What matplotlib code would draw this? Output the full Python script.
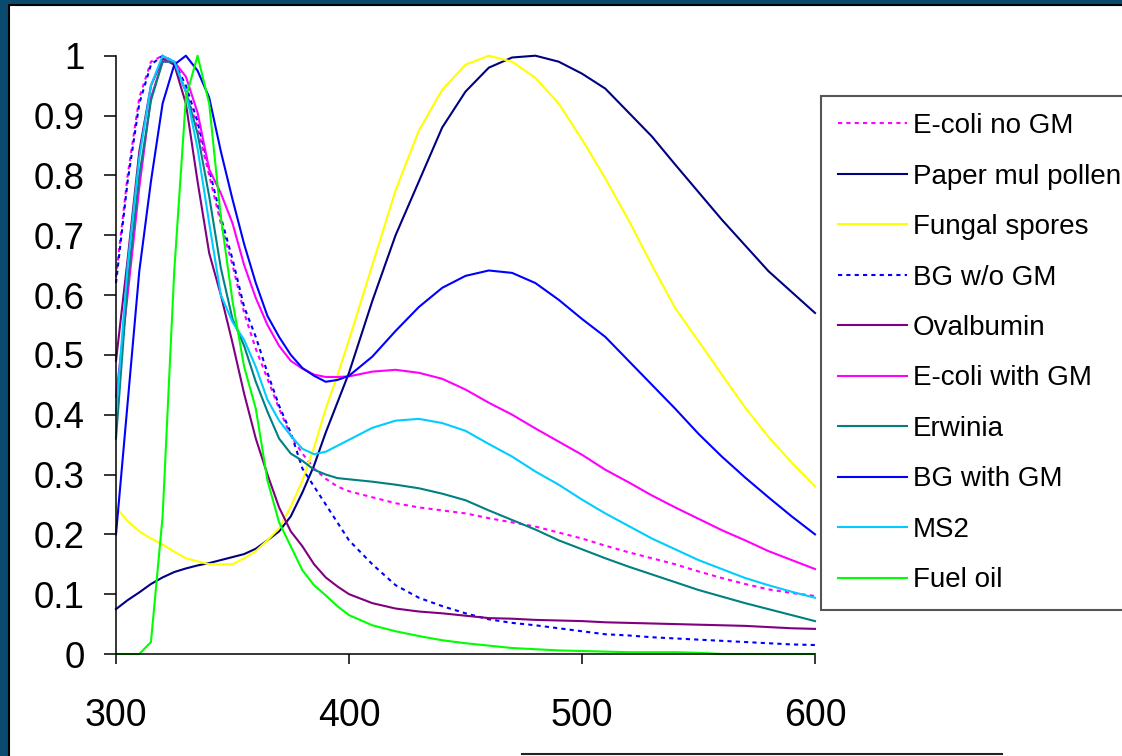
import numpy as np
import matplotlib
matplotlib.use("Agg")
import matplotlib.pyplot as plt
from matplotlib.patches import Rectangle
from matplotlib.lines import Line2D

plt.rcParams['font.family'] = ['Liberation Sans', 'DejaVu Sans']

# wavelength grid (nm)
wavelength = [300, 305, 310, 315, 320, 325, 330, 335, 340, 345, 350, 355, 360, 365, 370,
              375, 380, 385, 390, 395, 400,
              410, 420, 430, 440, 450, 460, 470, 480, 490, 500, 510, 520, 530, 540, 550,
              560, 570, 580, 590, 600]

ecoli_no_gm = [0.63, 0.80, 0.93, 0.99, 1.0, 0.985, 0.94, 0.88, 0.80, 0.72, 0.65, 0.57, 0.51, 0.46, 0.41,
               0.365, 0.335, 0.31, 0.293, 0.28, 0.272,
               0.262, 0.252, 0.245, 0.24, 0.235, 0.227, 0.22, 0.213, 0.203, 0.193, 0.181, 0.17, 0.16, 0.15,
               0.138, 0.127, 0.117, 0.108, 0.102, 0.097]
paper_mul_pollen = [0.075, 0.09, 0.103, 0.117, 0.128, 0.137, 0.143, 0.148, 0.152, 0.157, 0.162, 0.167, 0.176,
                    0.19, 0.205, 0.23, 0.27, 0.315, 0.37, 0.42, 0.47,
                    0.59, 0.70, 0.79, 0.88, 0.94, 0.98, 0.997, 1.0, 0.99, 0.97, 0.945, 0.905, 0.865, 0.818,
                    0.772, 0.726, 0.683, 0.64, 0.605, 0.57]
fungal_spores = [0.245, 0.222, 0.205, 0.193, 0.183, 0.171, 0.16, 0.155, 0.15, 0.15, 0.15, 0.16, 0.172, 0.19,
                 0.21, 0.246, 0.29, 0.345, 0.41, 0.465, 0.525,
                 0.65, 0.775, 0.875, 0.943, 0.985, 1.0, 0.99, 0.963, 0.92, 0.86, 0.795, 0.725, 0.65, 0.578,
                 0.523, 0.467, 0.412, 0.363, 0.32, 0.28]
bg_wo_gm = [0.62, 0.79, 0.92, 0.985, 1.0, 0.99, 0.95, 0.89, 0.81, 0.73, 0.66, 0.58, 0.53, 0.47, 0.415,
            0.37, 0.31, 0.28, 0.25, 0.22, 0.19,
            0.15, 0.115, 0.094, 0.08, 0.068, 0.058, 0.052, 0.048, 0.043, 0.038, 0.033, 0.031, 0.028, 0.026,
            0.024, 0.022, 0.02, 0.018, 0.016, 0.015]
ovalbumin = [0.49, 0.66, 0.84, 0.95, 0.995, 0.985, 0.92, 0.79, 0.67, 0.60, 0.52, 0.435, 0.36, 0.30, 0.245,
             0.205, 0.18, 0.15, 0.128, 0.113, 0.1,
             0.085, 0.076, 0.071, 0.068, 0.064, 0.06, 0.059, 0.057, 0.056, 0.055, 0.053, 0.052, 0.051, 0.05,
             0.049, 0.048, 0.047, 0.045, 0.043, 0.042]
ecoli_with_gm = [0.43, 0.6, 0.78, 0.93, 0.99, 0.99, 0.965, 0.905, 0.81, 0.77, 0.72, 0.65, 0.595, 0.55, 0.515,
                 0.49, 0.477, 0.467, 0.463, 0.463, 0.464,
                 0.472, 0.475, 0.47, 0.46, 0.442, 0.42, 0.40, 0.377, 0.355, 0.333, 0.308, 0.287, 0.265, 0.245,
                 0.226, 0.207, 0.19, 0.172, 0.157, 0.142]
erwinia = [0.36, 0.62, 0.80, 0.925, 0.99, 0.99, 0.94, 0.87, 0.765, 0.645, 0.56, 0.515, 0.455, 0.405, 0.36,
           0.335, 0.323, 0.308, 0.3, 0.294, 0.292,
           0.288, 0.283, 0.277, 0.268, 0.257, 0.24, 0.224, 0.208, 0.19, 0.175, 0.16, 0.146, 0.133, 0.12,
           0.107, 0.096, 0.085, 0.075, 0.065, 0.055]
bg_with_gm = [0.20, 0.42, 0.64, 0.79, 0.92, 0.985, 1.0, 0.975, 0.93, 0.84, 0.76, 0.685, 0.62, 0.565, 0.53,
              0.50, 0.478, 0.465, 0.455, 0.458, 0.465,
              0.497, 0.54, 0.58, 0.612, 0.632, 0.641, 0.637, 0.62, 0.592, 0.56, 0.53, 0.49, 0.45, 0.41,
              0.368, 0.33, 0.295, 0.262, 0.23, 0.20]
ms2 = [0.40, 0.65, 0.83, 0.95, 1.0, 0.99, 0.94, 0.845, 0.72, 0.60, 0.555, 0.525, 0.48, 0.425, 0.39,
       0.365, 0.343, 0.334, 0.338, 0.348, 0.358,
       0.378, 0.39, 0.393, 0.386, 0.373, 0.351, 0.33, 0.305, 0.283, 0.258, 0.235, 0.214, 0.193, 0.175,
       0.157, 0.142, 0.127, 0.115, 0.104, 0.094]
fuel_oil = [0, 0, 0, 0.02, 0.23, 0.64, 0.93, 1.0, 0.92, 0.73, 0.59, 0.48, 0.41, 0.29, 0.22,
            0.18, 0.14, 0.115, 0.098, 0.08, 0.065,
            0.048, 0.038, 0.03, 0.023, 0.018, 0.014, 0.01, 0.008, 0.006, 0.005, 0.004, 0.003, 0.003, 0.003,
            0.002, 0, 0, 0, 0, 0]

series = [
    ("E-coli no GM", ecoli_no_gm, "#ff00ff", "dot"),
    ("Paper mul pollen", paper_mul_pollen, "#000080", "solid"),
    ("Fungal spores", fungal_spores, "#ffff00", "solid"),
    ("BG w/o GM", bg_wo_gm, "#0000ff", "dot"),
    ("Ovalbumin", ovalbumin, "#800080", "solid"),
    ("E-coli with GM", ecoli_with_gm, "#ff00ff", "solid"),
    ("Erwinia", erwinia, "#008080", "solid"),
    ("BG with GM", bg_with_gm, "#0000ff", "solid"),
    ("MS2", ms2, "#00ccff", "solid"),
    ("Fuel oil", fuel_oil, "#00ff00", "solid"),
]

W, H = 1122, 756
fig = plt.figure(figsize=(W / 100, H / 100), dpi=100)
fig.patch.set_facecolor('#0b4a6f')
# white slide area with thin black edge
fig.patches.append(Rectangle((9 / W, -0.02), 1.0, 1 - 5 / H + 0.02, transform=fig.transFigure,
                             facecolor='white', edgecolor='black', lw=1.5, zorder=-5))
fig.add_artist(Line2D([522 / W, 1002 / W], [1 - 754 / H] * 2, color='#222222', lw=1.5))

ax = fig.add_axes([116 / W, 1 - 654 / H, (815 - 116) / W, (654 - 55.7) / H])
ax.patch.set_alpha(0)

for name, vals, color, style in series:
    ls = (0, (2, 2)) if style == "dot" else "-"
    ax.plot(wavelength, vals, color=color, lw=1.5, ls=ls, label=name, clip_on=False)

ax.set_xlim(300, 600)
ax.set_ylim(0, 1)
ax.set_xticks([300, 400, 500, 600])
yt = np.round(np.arange(0, 1.01, 0.1), 1)
ax.set_yticks(yt)
ax.set_yticklabels(['{:g}'.format(v) for v in yt])
for s in ['top', 'right']:
    ax.spines[s].set_visible(False)
for s in ['left', 'bottom']:
    ax.spines[s].set_linewidth(1.1)
ax.tick_params(axis='x', direction='out', length=7, width=1.1, pad=25, labelsize=27)
ax.tick_params(axis='y', direction='out', length=8.5, width=1.1, pad=14, labelsize=26.5)

leg = ax.legend(loc='upper left', bbox_to_anchor=(820.7 / W, 1 - 96 / H),
                bbox_transform=fig.transFigure, borderaxespad=0, fontsize=20,
                frameon=True, fancybox=False, framealpha=1, edgecolor='#555555',
                handlelength=2.5, handletextpad=0.2, labelspacing=0.88, borderpad=0.62)
leg.get_frame().set_linewidth(1.5)

fig.savefig('out.png', dpi=100, facecolor=fig.get_facecolor())
